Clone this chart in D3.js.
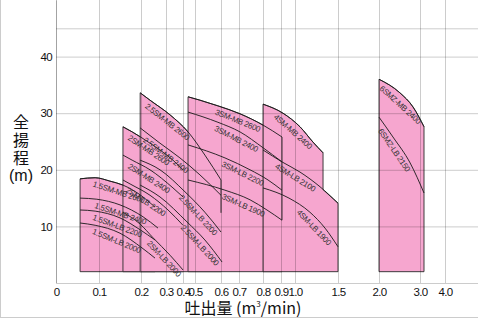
<!DOCTYPE html>
<html>
<head>
<meta charset="utf-8">
<script src="https://cdn.jsdelivr.net/npm/d3@7"></script>
<style>
body { margin: 0; background: #fff; }
svg { display: block; }
.tick text { font-family: "Liberation Sans", Arial, sans-serif; font-size: 11.5px; letter-spacing: -0.7px; fill: #111; }
.tick line, .domain { stroke: rgba(0,0,0,0.2); }
.lab { font-family: "Liberation Sans", Arial, sans-serif; font-size: 8px; letter-spacing: -0.3px; fill: #333; }
.ttl { font-family: "Noto Sans CJK JP", sans-serif; fill: #111; }
</style>
</head>
<body>
<svg class="chart" width="478" height="318"></svg>
<script>
// axis ticks: flow (m3/min) and head (m)
var flowTicks = [0, 0.1, 0.2, 0.3, 0.4, 0.5, 0.6, 0.7, 0.8, 0.9, 1.0, 1.5, 2.0, 3.0, 4.0]
var flowTickLabels = ['0', '0.1', '0.2', '0.3', '0.4', '0.5', '0.6', '0.7', '0.8', '0.9', '1.0', '1.5', '2.0', '3.0', '4.0']
var headTicks = [10, 20, 30, 40, 45]
var baseHead = 2

// performance curves, [flow, head]
var sm15_mb2600 = [[0.056, 18.4], [0.091, 18.6], [0.126, 18.0], [0.157, 17.3], [0.208, 15.2], [0.256, 13.4]]
var sm15_mb2400 = [[0.056, 15.0], [0.095, 14.8], [0.150, 13.8], [0.208, 11.7], [0.268, 9.7]]
var sm15_lb2200 = [[0.056, 12.9], [0.091, 12.7], [0.150, 11.5], [0.198, 9.4], [0.256, 7.6]]
var sm15_lb2000 = [[0.056, 10.6], [0.091, 10.2], [0.150, 8.8], [0.204, 6.2], [0.256, 4.4]]

var sm2_mb2600 = [[0.157, 27.6], [0.179, 26.7], [0.236, 24.7], [0.341, 21.7], [0.400, 20.0]]
var sm2_mb2400 = [[0.157, 22.6], [0.179, 21.7], [0.236, 20.0], [0.341, 16.8], [0.400, 15.2]]
var sm2_lb2200 = [[0.157, 18.2], [0.174, 17.5], [0.236, 15.5], [0.312, 12.9], [0.400, 10.2]]
var sm2_lb2000 = [[0.157, 12.5], [0.198, 10.4], [0.248, 8.0], [0.324, 4.9], [0.400, 2.3]]

var sm25_mb2600 = [[0.198, 33.6], [0.236, 32.3], [0.324, 29.7], [0.442, 26.7], [0.538, 22.6], [0.600, 18.2]]
var sm25_mb2400 = [[0.198, 27.4], [0.276, 24.7], [0.382, 22.1], [0.519, 19.1], [0.600, 15.5]]
var sm25_lb2200 = [[0.198, 21.7], [0.276, 20.0], [0.417, 16.1], [0.538, 12.5], [0.600, 9.0]]
var sm25_lb2000 = [[0.198, 17.3], [0.276, 15.2], [0.433, 10.8], [0.538, 7.6], [0.606, 3.7]]

var sm3_mb2600 = [[0.442, 32.9], [0.519, 32.3], [0.588, 31.3], [0.704, 29.9], [0.800, 27.9], [0.907, 25.8]]
var sm3_mb2400 = [[0.442, 30.2], [0.588, 28.4], [0.704, 26.7], [0.800, 23.9], [0.907, 21.4]]
var sm3_lb2200 = [[0.442, 24.4], [0.622, 22.1], [0.746, 20.0], [0.828, 18.2], [0.907, 16.4]]
var sm3_lb1900 = [[0.442, 18.2], [0.622, 16.4], [0.746, 14.7], [0.822, 12.9], [0.907, 11.1]]

var sm4_mb2400 = [[0.800, 31.6], [0.914, 30.0], [1.058, 27.6], [1.209, 24.9], [1.326, 23.0]]
var sm4_lb2100 = [[0.800, 23.5], [0.907, 21.4], [1.058, 19.6], [1.291, 17.0], [1.500, 14.1]]
var sm4_lb1900 = [[0.800, 16.8], [0.957, 15.0], [1.174, 12.5], [1.349, 9.7], [1.500, 6.4]]
var sm4_edge = [[1.326, 16.5], [1.500, 14.1]]

var smz6_mb2400 = [[2.0, 36.0], [2.51, 33.6], [2.83, 31.1], [3.16, 27.6]]
var smz6_lb2150 = [[2.0, 29.3], [2.34, 25.8], [2.76, 21.2], [3.16, 15.9]]

// max flow lines: [flow, head top, head bottom]
var limits = [[0.600, 18.2, 12.4], [0.907, 25.8, 11.1]]

var curves = [
    {name: '1.5SM-MB 2600', pts: sm15_mb2600},
    {name: '1.5SM-MB 2400', pts: sm15_mb2400},
    {name: '1.5SM-LB 2200', pts: sm15_lb2200},
    {name: '1.5SM-LB 2000', pts: sm15_lb2000},
    {name: '2SM-MB 2600', pts: sm2_mb2600},
    {name: '2SM-MB 2400', pts: sm2_mb2400},
    {name: '2SM-LB 2200', pts: sm2_lb2200},
    {name: '2SM-LB 2000', pts: sm2_lb2000},
    {name: '2.5SM-MB 2600', pts: sm25_mb2600},
    {name: '2.5SM-MB 2400', pts: sm25_mb2400},
    {name: '2.5SM-LB 2200', pts: sm25_lb2200},
    {name: '2.5SM-LB 2000', pts: sm25_lb2000},
    {name: '3SM-MB 2600', pts: sm3_mb2600},
    {name: '3SM-MB 2400', pts: sm3_mb2400},
    {name: '3SM-LB 2200', pts: sm3_lb2200},
    {name: '3SM-LB 1900', pts: sm3_lb1900},
    {name: '4SM-MB 2400', pts: sm4_mb2400},
    {name: '4SM-LB 2100', pts: sm4_lb2100},
    {name: '4SM-LB 1900', pts: sm4_lb1900},
    {name: '6SMZ-MB 2400', pts: smz6_mb2400},
    {name: '6SMZ-LB 2150', pts: smz6_lb2150}
]

var regions = [
    {top: sm15_mb2600, tail: []},
    {top: sm2_mb2600, tail: []},
    {top: sm25_mb2600, tail: []},
    {top: sm3_mb2600, tail: []},
    {top: sm4_mb2400, tail: sm4_edge},
    {top: smz6_mb2400, tail: []}
]

// where each label starts along its curve (flow value)
var labelFlow = [0.091, 0.095, 0.091, 0.091, 0.179, 0.179, 0.174, 0.248,
    0.236, 0.228, 0.417, 0.433, 0.588, 0.588, 0.622, 0.622, 0.89, 0.89, 1.09, 2.15, 2.15]

var svg = d3.select('.chart')

// the flow axis is not uniform, so map each tick to its place
var xStops = [56, 99, 141, 166, 183, 195, 221, 239, 263, 281, 295, 338, 379, 420, 445, 478]
var x = d3.scaleLinear().domain(flowTicks.concat([5.32])).range(xStops)
var y = d3.scaleLinear().domain([0, 50]).range([283, 0])

var line = d3.line()
    .x(d => x(d[0]))
    .y(d => y(d[1]))
    .curve(d3.curveMonotoneX)

function regionPath(r) {
    var first = r.top[0]
    var pts = r.tail.length ? r.tail : r.top
    var last = pts[pts.length - 1]
    var p = 'M' + x(first[0]) + ',' + y(baseHead) + 'L' + x(first[0]) + ',' + y(first[1])
    p += 'L' + line(r.top).slice(1)
    r.tail.forEach(d => { p += 'L' + x(d[0]) + ',' + y(d[1]) })
    p += 'L' + x(last[0]) + ',' + y(baseHead) + 'Z'
    return p
}

svg.append('line')
    .attr('x1', 0.5).attr('x2', 0.5).attr('y1', 0).attr('y2', 318)
    .attr('stroke', '#ccc')
svg.append('line')
    .attr('x1', 0).attr('x2', 478).attr('y1', 317.5).attr('y2', 317.5)
    .attr('stroke', '#ccc')

svg.append('g').selectAll('path').data(regions)
    .enter().append('path')
    .attr('d', regionPath)
    .attr('fill', '#f6a6cf')
    .attr('stroke', '#2a2a2a')
    .attr('stroke-width', 0.9)

// grid goes over the pink so it shows through faintly
var gx = svg.append('g')
    .attr('transform', 'translate(0,' + y(0) + ')')
    .call(d3.axisBottom(x)
        .tickValues(flowTicks)
        .tickFormat((d, i) => flowTickLabels[i])
        .tickSizeInner(-y(0))
        .tickSizeOuter(0)
        .tickPadding(5))

var gy = svg.append('g')
    .attr('transform', 'translate(' + x(0) + ',0)')
    .call(d3.axisLeft(y)
        .tickValues(headTicks)
        .tickFormat(d => d == 45 ? '' : d)
        .tickSizeInner(-(478 - x(0)))
        .tickSizeOuter(0)
        .tickPadding(4))

svg.append('g').selectAll('.lim').data(limits)
    .enter().append('line')
    .attr('class', 'lim')
    .attr('x1', d => x(d[0])).attr('x2', d => x(d[0]))
    .attr('y1', d => y(d[1])).attr('y2', d => y(d[2]))
    .attr('stroke', '#1a1a1a')
    .attr('stroke-width', 0.9)

var curvePaths = svg.append('g').selectAll('.curve').data(curves)
    .enter().append('path')
    .attr('class', 'curve')
    .attr('d', d => line(d.pts))
    .attr('fill', 'none')
    .attr('stroke', '#1a1a1a')
    .attr('stroke-width', 0.9)

// label each curve: find where it crosses the start flow and follow its slope
curvePaths.each(function(d, i) {
    var node = this
    var total = node.getTotalLength()
    var px = x(labelFlow[i])
    var lo = 0, hi = total
    for (var k = 0; k < 30; k++) {
        var mid = (lo + hi) / 2
        if (node.getPointAtLength(mid).x < px) lo = mid
        else hi = mid
    }
    var p0 = node.getPointAtLength(lo)
    var p1 = node.getPointAtLength(Math.min(lo + 40, total))
    if (Math.hypot(p1.x - p0.x, p1.y - p0.y) < 10) {
        p1 = p0
        p0 = node.getPointAtLength(Math.max(lo - 30, 0))
    }
    var ang = Math.atan2(p1.y - p0.y, p1.x - p0.x) * 180 / Math.PI
    var start = node.getPointAtLength(lo)
    svg.append('text')
        .attr('class', 'lab')
        .attr('transform', 'translate(' + start.x + ',' + start.y + ') rotate(' + ang + ')')
        .attr('y', 9)
        .text(d.name)
})

// titles
var yTitle = ['全', '揚', '程', '(m)']
svg.selectAll('.ytitle').data(yTitle)
    .enter().append('text')
    .attr('class', 'ttl ytitle')
    .attr('x', 21)
    .attr('y', (d, i) => 121 + i * 18)
    .attr('text-anchor', 'middle')
    .attr('dominant-baseline', 'central')
    .style('font-size', '16px')
    .style('font-family', (d, i) => i == 3 ? '"Liberation Sans", Arial, sans-serif' : null)
    .text(d => d)

var xt = svg.append('text')
    .attr('class', 'ttl')
    .attr('x', 243)
    .attr('y', 314)
    .attr('text-anchor', 'middle')
    .style('font-size', '16px')
xt.append('tspan').text('吐出量 (m')
xt.append('tspan').attr('dy', -7).style('font-size', '8px').text('3')
xt.append('tspan').attr('dy', 7).text('/min)')
</script>
</body>
</html>
